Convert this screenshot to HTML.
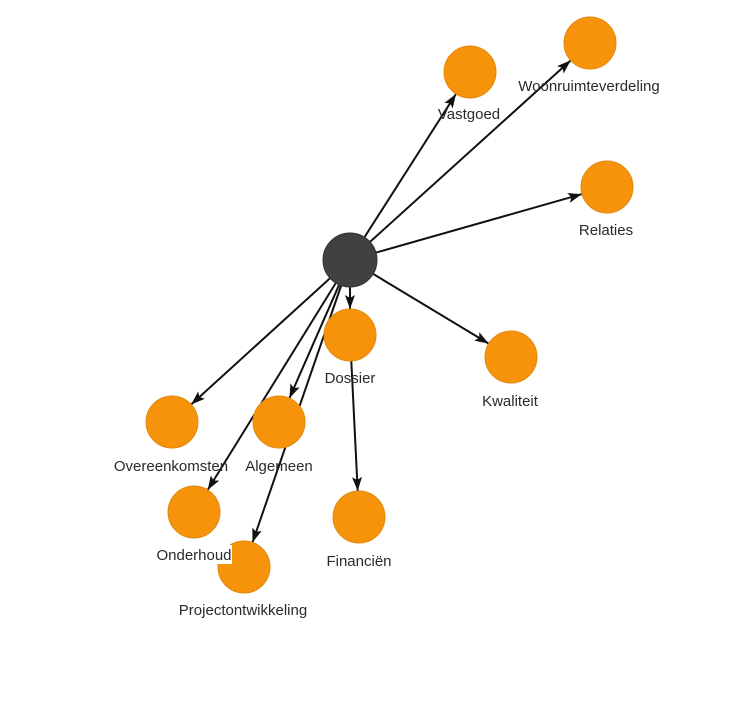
<!DOCTYPE html>
<html><head><meta charset="utf-8"><style>
html,body{margin:0;padding:0;background:#fff;}
svg{display:block;}
text{font-family:"Liberation Sans",sans-serif;font-size:15px;fill:#2a2a2a;text-anchor:middle;}
</style></head><body>
<svg width="756" height="712" viewBox="0 0 756 712" xmlns="http://www.w3.org/2000/svg">
<defs>
<marker id="a" markerWidth="15" markerHeight="12" refX="14" refY="5" orient="auto" markerUnits="userSpaceOnUse">
<path d="M0,0 L14,5 L0,10 L3,5 Z" fill="#111"/>
</marker>
</defs>
<g stroke="#111" stroke-width="2" marker-end="url(#a)">
<line x1="364.5" y1="237.2" x2="456" y2="93.9"/>
<line x1="370" y1="241.9" x2="570.7" y2="60.4"/>
<line x1="376" y1="252.6" x2="582" y2="194.1"/>
<line x1="373.1" y1="273.9" x2="488.7" y2="343.6"/>
<line x1="350" y1="287" x2="350" y2="309"/>
<line x1="351.3" y1="361" x2="357.7" y2="491"/>
<line x1="339.2" y1="284.7" x2="289.4" y2="398.2"/>
<line x1="330" y1="278.2" x2="191.2" y2="404.5"/>
<line x1="335.8" y1="283" x2="207.7" y2="489.9"/>
<line x1="341.2" y1="285.5" x2="252.5" y2="542.4"/>
</g>
<g fill="#f7930a" stroke="#e08a10" stroke-width="1">
<circle cx="470" cy="72" r="26"/>
<circle cx="590" cy="43" r="26"/>
<circle cx="607" cy="187" r="26"/>
<circle cx="511" cy="357" r="26"/>
<circle cx="350" cy="335" r="26"/>
<circle cx="359" cy="517" r="26"/>
<circle cx="279" cy="422" r="26"/>
<circle cx="172" cy="422" r="26"/>
<circle cx="194" cy="512" r="26"/>
<circle cx="244" cy="567" r="26"/>
</g>
<circle cx="350" cy="260" r="27" fill="#414141" stroke="#333"/>
<text x="469" y="119">Vastgoed</text>
<text x="589" y="91">Woonruimteverdeling</text>
<text x="606" y="235">Relaties</text>
<text x="510" y="406">Kwaliteit</text>
<text x="350" y="383">Dossier</text>
<text x="359" y="566">Financiën</text>
<text x="279" y="471">Algemeen</text>
<text x="171" y="471">Overeenkomsten</text>
<rect x="156" y="545" width="76" height="19" fill="#fff"/>
<text x="194" y="560">Onderhoud</text>
<text x="243" y="615">Projectontwikkeling</text>
</svg>
</body></html>
